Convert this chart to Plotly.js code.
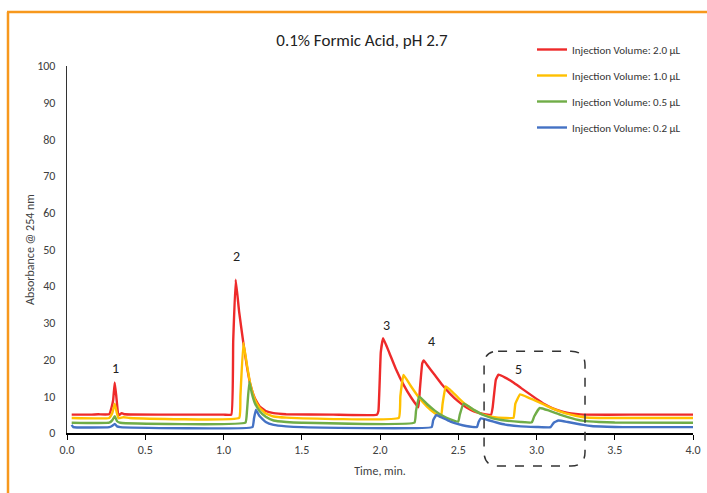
<!DOCTYPE html>
<html>
<head>
<meta charset="utf-8">
<script src="https://cdn.plot.ly/plotly-3.0.1.min.js"></script>
<style>html,body{margin:0;padding:0;background:#fff;}#chart{width:707px;height:493px;}</style>
</head>
<body>
<div id="chart"></div>
<script>
// Series names
const seriesNames = ["Injection Volume: 2.0 µL", "Injection Volume: 1.0 µL", "Injection Volume: 0.5 µL", "Injection Volume: 0.2 µL"];
const seriesColors = ["#EE2A2A", "#FFC000", "#70AD47", "#4472C4"];

// Red: 2.0 µL
const redTime = [0.03,0.15,0.2,0.27,0.285,0.295,0.305,0.315,0.325,0.33,0.35,0.37,0.6,1.0,1.05,1.062,1.078,1.1,1.127,1.15,1.17,1.2,1.23,1.27,1.32,1.4,1.7,1.98,1.99,2.005,2.02,2.06,2.1,2.15,2.2,2.245,2.255,2.27,2.28,2.3,2.35,2.4,2.45,2.5,2.55,2.6,2.66,2.71,2.72,2.74,2.757,2.8,2.85,2.9,2.95,3.0,3.05,3.1,3.15,3.2,3.25,3.3,3.6,4.0];
const redAbs  = [5.0,5.0,5.1,5.1,7.0,9.0,13.8,10.0,5.6,4.8,5.4,5.1,5.0,5.0,5.0,25.0,41.8,33.0,24.5,18.0,13.5,9.5,7.3,6.0,5.4,5.1,5.0,5.0,6.0,22.0,25.8,21.8,17.6,13.2,9.6,7.0,12.0,19.0,19.8,18.6,15.8,13.0,10.6,8.6,7.0,5.9,5.2,5.0,7.0,14.5,15.9,15.1,13.8,12.3,10.8,9.3,7.9,6.8,6.0,5.5,5.2,5.0,5.0,5.0];

// Yellow: 1.0 µL
const yellowTime = [0.03,0.27,0.29,0.305,0.32,0.33,0.36,0.4,1.1,1.108,1.127,1.15,1.17,1.2,1.23,1.27,1.32,1.4,2.12,2.13,2.15,2.2,2.25,2.3,2.35,2.39,2.4,2.42,2.45,2.5,2.55,2.6,2.66,2.72,2.8,2.853,2.865,2.895,2.95,3.0,3.05,3.1,3.15,3.2,3.25,3.3,3.4,4.0];
const yellowAbs  = [4.1,4.1,5.5,8.0,5.2,4.0,4.3,4.1,4.1,10.0,24.6,18.5,13.6,9.2,6.9,5.3,4.5,4.2,4.1,10.0,15.8,12.6,9.6,7.2,5.4,4.5,8.0,12.7,11.7,9.6,7.7,6.2,5.0,4.4,4.1,4.1,8.0,10.5,9.6,8.7,7.7,6.7,5.9,5.2,4.7,4.3,4.1,4.1];

// Green: 0.5 µL
const greenTime = [0.03,0.27,0.29,0.305,0.32,0.34,1.14,1.15,1.165,1.18,1.2,1.23,1.27,1.32,1.4,1.5,2.22,2.23,2.25,2.3,2.35,2.4,2.45,2.5,2.51,2.535,2.6,2.66,2.72,2.8,2.9,2.97,2.985,3.02,3.08,3.15,3.2,3.25,3.3,3.4,3.5,4.0];
const greenAbs  = [2.8,2.8,3.5,4.6,3.2,2.8,2.8,6.0,14.0,11.0,8.2,6.0,4.4,3.4,3.0,2.8,2.8,6.0,10.0,7.9,6.1,4.7,3.7,3.1,5.0,8.0,6.3,4.9,4.0,3.4,3.0,2.9,4.5,6.8,6.1,5.0,4.3,3.7,3.3,3.0,2.85,2.8];

// Blue: 0.2 µL
const blueTime = [0.03,0.04,0.27,0.29,0.305,0.32,0.34,1.185,1.195,1.207,1.23,1.27,1.32,1.4,1.5,2.33,2.34,2.36,2.4,2.45,2.5,2.55,2.62,2.63,2.645,2.7,2.75,2.8,2.9,3.0,3.09,3.11,3.14,3.2,3.25,3.3,3.35,3.45,3.55,4.0];
const blueAbs  = [2.2,1.6,1.6,2.0,2.5,1.8,1.6,1.6,4.0,6.3,4.6,3.0,2.2,1.8,1.6,1.6,3.5,4.9,4.1,3.1,2.4,1.9,1.65,3.0,4.0,3.4,2.8,2.3,1.8,1.65,1.6,2.8,3.4,3.0,2.6,2.2,1.9,1.7,1.6,1.6];

// Peak labels
const peakLabels = ["1","2","3","4","5"];
const peakLabelTime = [0.31,1.086,2.04,2.326,2.888];
const peakLabelAbs  = [17.7,48.2,29.2,24.8,17.4];

// Highlight box around peak 5 (data units)
const boxTime = [2.665, 3.31];
const boxAbs  = [22.3, -9.0];

const W = 707, H = 493;
const M = {l: 67, r: 14, t: 66, b: 60};
const xRange = [0, 4], yRange = [0, 100];
const PW = W - M.l - M.r, PH = H - M.t - M.b;
function px2paperX(p){ return (p - M.l) / PW; }
function px2paperY(p){ return (H - M.b - p) / PH; }
function dataX2paper(v){ return (v - xRange[0]) / (xRange[1] - xRange[0]); }
function dataY2paper(v){ return (v - yRange[0]) / (yRange[1] - yRange[0]); }

const FONT = "Carlito, Calibri, Lato, 'Open Sans', sans-serif";

const xs = [redTime, yellowTime, greenTime, blueTime];
const ys = [redAbs, yellowAbs, greenAbs, blueAbs];
const traces = xs.map((x, i) => ({
  type: 'scatter', mode: 'lines', x: x, y: ys[i], name: seriesNames[i],
  legendgroup: 'g' + i,
  line: {color: seriesColors[i], width: 2.4, shape: 'spline', smoothing: 0.3}
}));

// rounded dashed box as a path in paper units
const bx0 = dataX2paper(boxTime[0]), bx1 = dataX2paper(boxTime[1]);
const by0 = dataY2paper(boxAbs[1]), by1 = dataY2paper(boxAbs[0]);
const rx = 14 / PW, ry = 14 / PH;
const boxPath = `M ${bx0+rx} ${by1} L ${bx1-rx} ${by1} Q ${bx1} ${by1} ${bx1} ${by1-ry} L ${bx1} ${by0+ry} Q ${bx1} ${by0} ${bx1-rx} ${by0} L ${bx0+rx} ${by0} Q ${bx0} ${by0} ${bx0} ${by0+ry} L ${bx0} ${by1-ry} Q ${bx0} ${by1} ${bx0+rx} ${by1} Z`;

const shapes = [
  {type: 'line', xref: 'paper', yref: 'paper', x0: px2paperX(8), x1: px2paperX(8), y0: px2paperY(12), y1: px2paperY(493), line: {color: '#F7981D', width: 2.5}},
  {type: 'line', xref: 'paper', yref: 'paper', x0: px2paperX(7), x1: px2paperX(707), y0: px2paperY(12), y1: px2paperY(12), line: {color: '#F7981D', width: 2.5}},
  {type: 'path', xref: 'paper', yref: 'paper', path: boxPath, line: {color: '#333', width: 1.5, dash: 'dash'}, layer: 'above'}
];

const annotations = peakLabels.map((t, i) => ({
  x: peakLabelTime[i], y: peakLabelAbs[i], xref: 'x', yref: 'y', text: t, showarrow: false,
  font: {family: FONT, size: 14, color: '#222'}
}));

const layout = {
  width: W, height: H,
  margin: M,
  paper_bgcolor: '#fff', plot_bgcolor: '#fff',
  font: {family: FONT, color: '#404040'},
  title: {text: '0.1% Formic Acid, pH 2.7', x: 362 / W, xanchor: 'center', y: 1 - 40 / H, yanchor: 'middle', font: {size: 17, color: '#222', family: FONT}},
  xaxis: {
    range: xRange, dtick: 0.5, tick0: 0, tickformat: '.1f',
    showline: true, linecolor: '#000', linewidth: 1.5, mirror: false,
    ticks: 'outside', ticklen: 5, tickcolor: '#000', tickwidth: 1,
    showgrid: false, zeroline: false,
    tickfont: {size: 12, color: '#404040', family: FONT},
    title: {text: 'Time, min.', font: {size: 12, color: '#404040', family: FONT}, standoff: 10}
  },
  yaxis: {
    range: yRange, dtick: 10, tick0: 0,
    showline: true, linecolor: '#333', linewidth: 1.2,
    ticks: '', showgrid: false, zeroline: false,
    ticklabelstandoff: 8,
    tickfont: {size: 12, color: '#404040', family: FONT},
    title: {text: 'Absorbance @ 254 nm', font: {size: 12, color: '#404040', family: FONT}, standoff: 0}
  },
  showlegend: true,
  legend: {
    x: px2paperX(532), y: px2paperY(35), xanchor: 'left', yanchor: 'top',
    xref: 'paper', yref: 'paper',
    bgcolor: 'rgba(0,0,0,0)', traceorder: 'grouped', tracegroupgap: 7,
    itemwidth: 30,
    font: {size: 11, color: '#333', family: FONT}
  },
  shapes: shapes,
  annotations: annotations
};

Plotly.newPlot('chart', traces, layout, {displayModeBar: false, staticPlot: true});
</script>
</body>
</html>
